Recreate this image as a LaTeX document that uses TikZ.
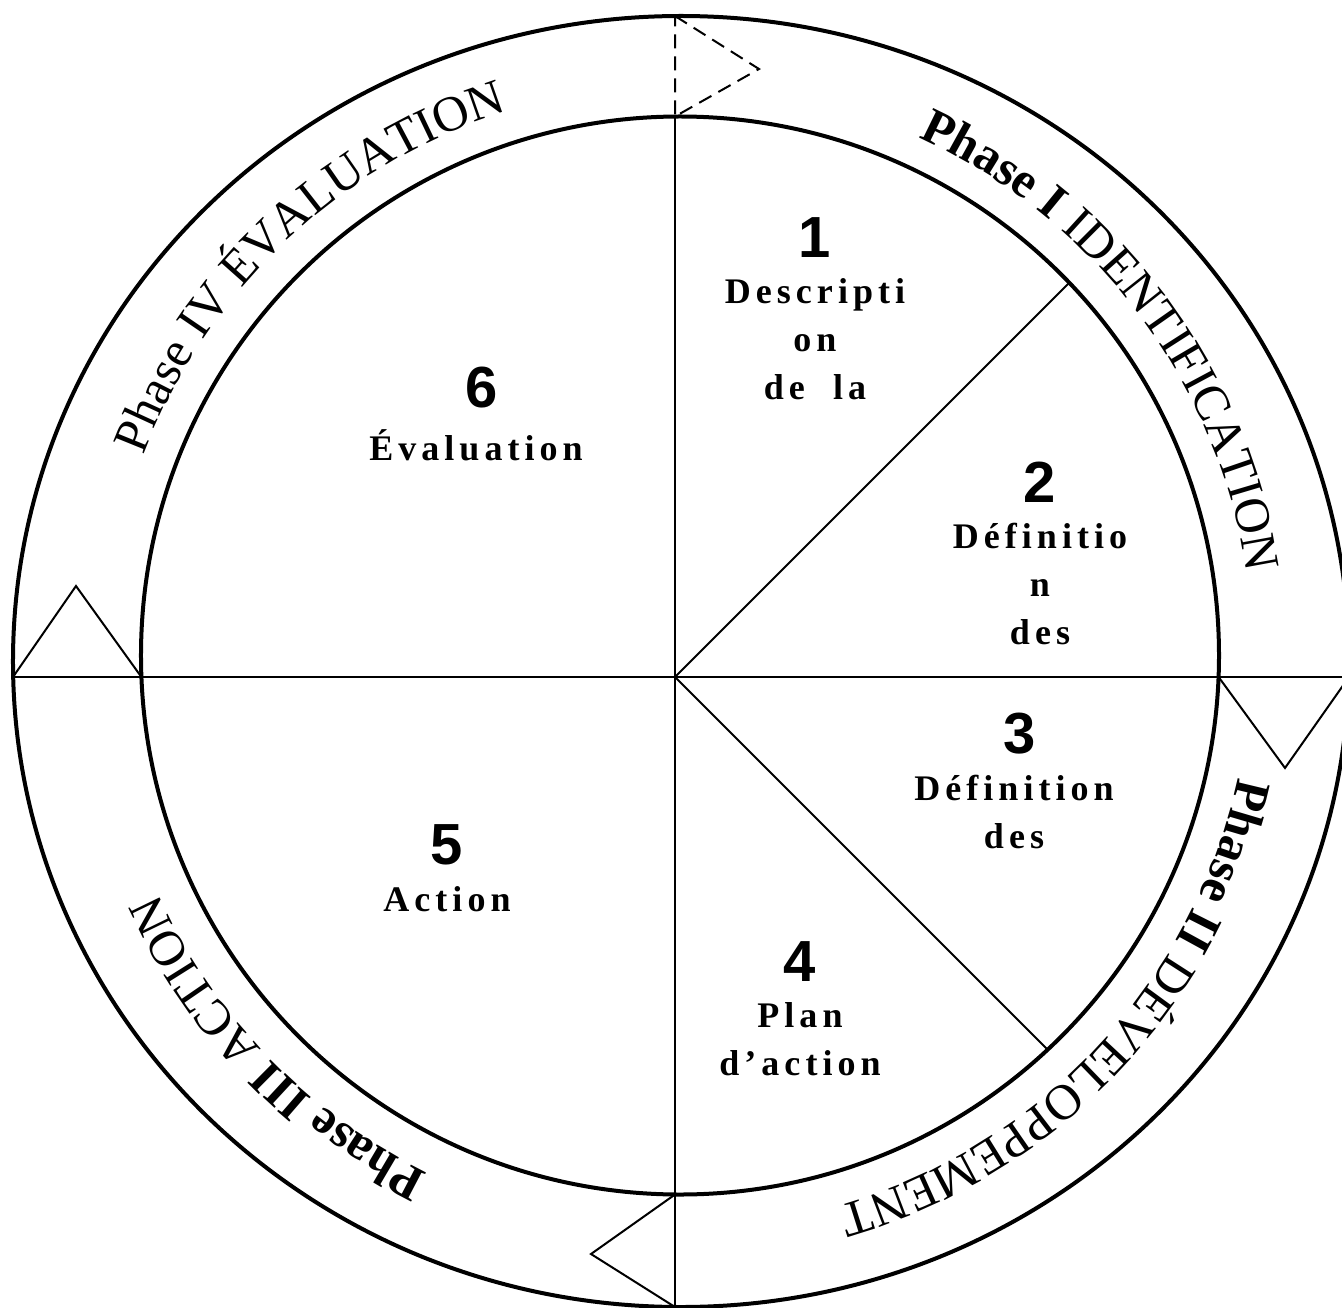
\documentclass[tikz,border=0pt]{standalone}
\usepackage{fontspec}
\setmainfont{Liberation Serif}
\newfontfamily\numfamily{Liberation Sans}
\newfontfamily\lblfamily{Liberation Serif}[LetterSpace=14]
\usetikzlibrary{positioning, decorations.text}
\newcommand{\ringfont}{\fontsize{25}{25}\selectfont}

\begin{document}
\begin{tikzpicture}[
  x=0.5pt, y=0.5pt,
  ring/.style={line width=2pt},
  divider/.style={line width=1pt},
  marker/.style={line width=1pt, line join=miter},
  num/.style={font=\numfamily\bfseries\fontsize{29}{29}\selectfont, inner sep=0pt},
  lbl/.style={font=\lblfamily\bfseries\fontsize{18}{24}\selectfont, align=center, inner sep=0pt},
  ringtext/.style={decorate, decoration={text along path, text align=center}},
  node distance=10pt
]
\useasboundingbox (-675,-630) rectangle (667,677);

%--- Centres and end points ---
\coordinate (O)  at (0,0);
\coordinate (ic) at (5,21.5);
\coordinate (oc) at (6,15.5);
\coordinate (rc) at (5.5,18.5);
\coordinate (W)    at (-662,0);
\coordinate (E)    at (674,0);
\coordinate (Win)  at (-533.6,0);
\coordinate (Ein)  at (543.6,0);
\coordinate (Nin)  at (0,560.5);
\coordinate (Nout) at (0,661);
\coordinate (Sin)  at (0,-517.5);
\coordinate (Sout) at (0,-630);
\coordinate (NE)   at (394.3,394.3);
\coordinate (SE)   at (372.6,-372.6);
\coordinate (tN) at (84,608);
\coordinate (tW) at (-599,91);
\coordinate (tE) at (610,-91);
\coordinate (tS) at (-84,-577);

%--- Circles ---
\draw[ring] (oc) ellipse[x radius=668, y radius=645.5];
\draw[ring] (ic) circle[radius=539];

%--- Dividers ---
\draw[divider] (W) -- (E);
\draw[divider] (Nin) -- (Sout);
\draw[divider] (O) -- (NE);
\draw[divider] (O) -- (SE);

%--- Phase markers ---
\draw[marker, dash pattern=on 7pt off 4pt] (Nout) -- (tN) -- (Nin) -- cycle;
\draw[marker] (W) -- (tW) -- (Win);
\draw[marker] (Ein) -- (tE) -- (E);
\draw[marker] (Sin) -- (tS) -- (Sout);

%--- Phase names ---
\path[ringtext, decoration={text={|\ringfont\bfseries|Phase I{\ }|\ringfont\mdseries|IDENTIFICATION}}]
  (rc) ++(112:573) arc[start angle=112, end angle=-38, radius=573];
\path[ringtext, decoration={text={|\ringfont\bfseries|Phase II{\ }|\ringfont\mdseries|DÉVELOPPEMENT}}]
  (rc) ++(32:570) arc[start angle=32, end angle=-118, radius=570];
\path[ringtext, decoration={text={|\ringfont\bfseries|Phase III{\ }|\ringfont\mdseries|ACTION}}]
  (rc) ++(-61:573) arc[start angle=-61, end angle=-211, radius=573];
\path[ringtext, decoration={text={|\ringfont|Phase IV ÉVALUATION}}]
  (rc) ++(208.4:574) arc[start angle=208.4, end angle=58.4, radius=574];

%--- Steps ---
\node[num] (n1) at (140,439) {1};
\node[lbl, below=of n1] (l1) {Descripti\\on\\de~ la};
\node[num] (n2) at (365,195) {2};
\node[lbl, below=of n2] (l2) {Définitio\\n\\des};
\node[num] (n3) at (345,-57) {3};
\node[lbl, below=of n3, xshift=-3pt] (l3) {Définition\\des};
\node[num] (n4) at (125,-285) {4};
\node[lbl, below=of n4] (l4) {Plan\\d’action};
\node[num] (n5) at (-228,-168) {5};
\node[lbl, below=of n5] (l5) {Action};
\node[num] (n6) at (-193,289) {6};
\node[lbl, below=of n6, xshift=-3pt] (l6) {Évaluation};

\end{tikzpicture}
\end{document}
